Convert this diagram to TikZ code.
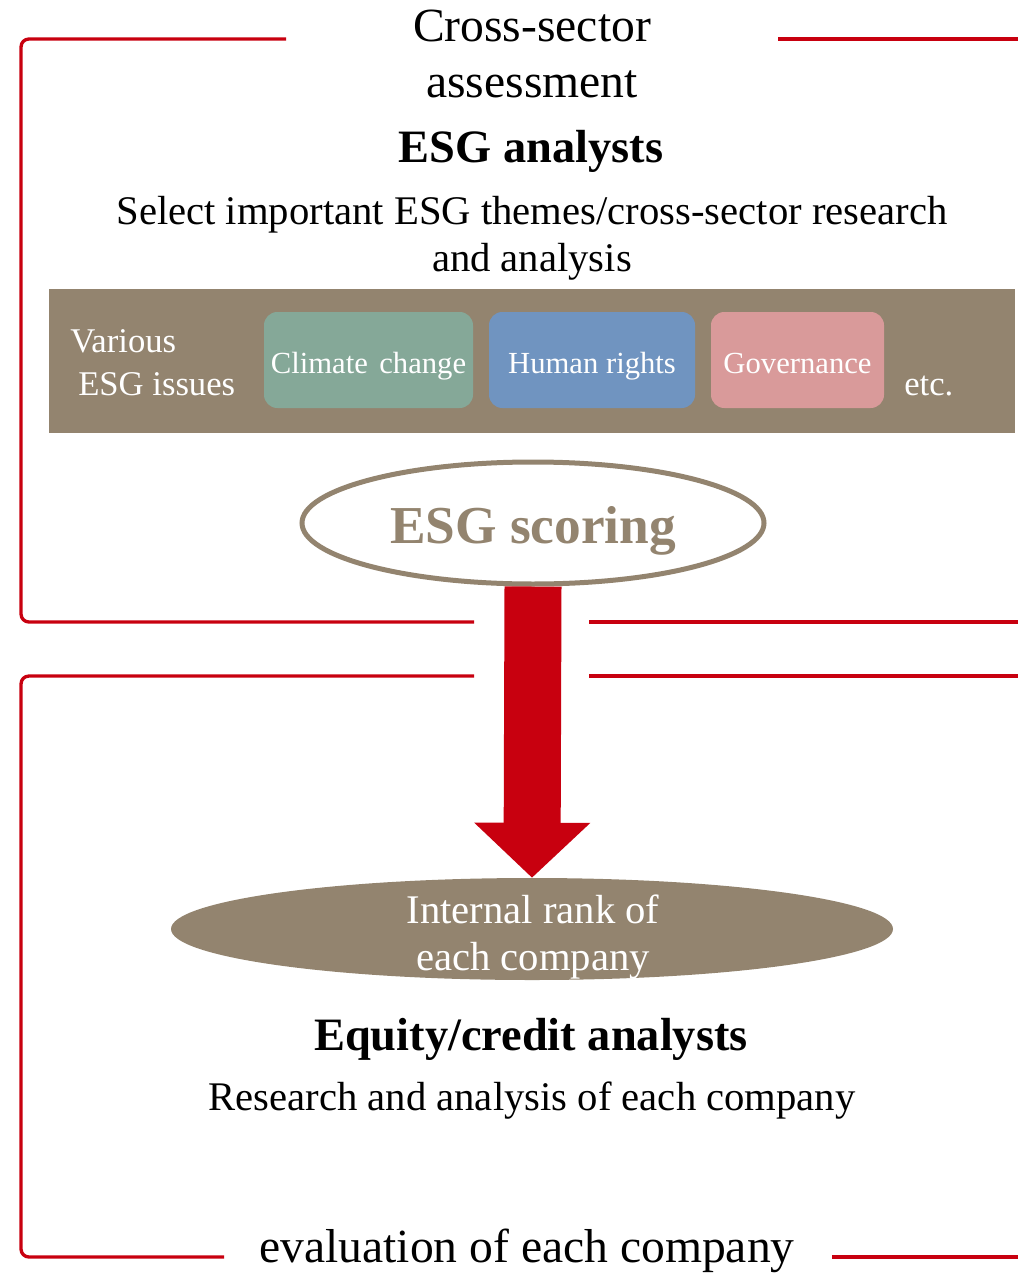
\documentclass[tikz,border=0pt]{standalone}
\usepackage{fontspec}
\setmainfont{Liberation Serif}
\usetikzlibrary{shapes.geometric,arrows.meta}
\definecolor{esgbrown}{RGB}{147,132,111}
\definecolor{esgred}{RGB}{200,0,15}
\definecolor{ccgreen}{RGB}{133,168,152}
\definecolor{hrblue}{RGB}{112,148,192}
\definecolor{govpink}{RGB}{217,154,154}
\newcommand{\fsz}[2]{\fontsize{#1}{#2}\selectfont}
\begin{document}
\begin{tikzpicture}[x=0.75pt,y=-0.75pt,
  frame/.style={draw=esgred, line width=2.5pt, rounded corners=6pt},
  issue/.style={rounded corners=10pt, minimum height=72pt, text=white, font=\fsz{23}{27}, text height=19.5pt, text depth=0pt, inner sep=0pt},
  hdr/.style={font=\bfseries\fsz{34.8}{40}, inner sep=0pt},
  body/.style={font=\fsz{30.5}{35.25}, align=center, inner sep=0pt},
  big/.style={font=\fsz{35.7}{42}, align=center, inner sep=0pt},
  side/.style={text=white, font=\fsz{26}{32}, inner sep=0pt}
]
\useasboundingbox (0,0) rectangle (1018,1273);

% frames
\draw[frame] (286,39) -- (21,39) -- (21,622) -- (474,622);
\draw[frame] (778,39) -- (1018,39);
\draw[frame] (589,622) -- (1018,622);
\draw[frame] (474,676) -- (21,676) -- (21,1257) -- (224,1257);
\draw[frame] (589,676) -- (1018,676);
\draw[frame] (832,1257) -- (1018,1257);

% upper texts (base anchor = baseline of last line)
\node[big, anchor=base] (title) at (532,98) {Cross-sector\\assessment};
\node[hdr, anchor=base] (esgan) at (531,163) {ESG analysts};
\node[body, anchor=base] (select) at (532,272) {Select important ESG themes/cross-sector research\\and analysis};

% band of issues
\node[fill=esgbrown, minimum width=724.5pt, minimum height=108pt, inner sep=0pt] (band) at (532,361) {};
\node[side, anchor=base west, align=left] (various) at (70,395) {Various\\\hspace*{6pt}ESG issues};
\node[issue, fill=ccgreen, minimum width=156.75pt] (cc) at (368.5,360) {Climate\hspace{0.12em} change};
\node[issue, fill=hrblue, minimum width=154.5pt] (hr) at (592,360) {Human rights};
\node[issue, fill=govpink, minimum width=129.75pt] (gov) at (797.5,360) {Governance};
\node[side, anchor=base west] (etc) at (904,395) {etc.};

% scoring
\node[ellipse, draw=esgbrown, line width=3.75pt, fill=white, minimum width=346.5pt, minimum height=91.5pt, inner sep=0pt, text=esgbrown, font=\bfseries\fsz{40}{48}, text height=30pt, text depth=0pt] (scoring) at (533,523) {ESG scoring};

% rank
\node[ellipse, fill=esgbrown, minimum width=541.5pt, minimum height=76.5pt, inner sep=0pt] (rank) at (532,929) {};
\node[body, text=white, anchor=base] (ranktext) at (533,970) {Internal rank of\\each company};

% arrow
\draw[esgred, line width=42.75pt, -{Triangle[width=84.75pt,length=41.25pt]}] (scoring.south) -- (rank.north);

% lower texts
\node[hdr, anchor=base] (eqan) at (531,1050) {Equity/credit analysts};
\node[body, anchor=base] (research) at (532,1110) {Research and analysis of each company};
\node[big, anchor=base] (evaluation) at (527,1262) {evaluation of each company};
\end{tikzpicture}
\end{document}
